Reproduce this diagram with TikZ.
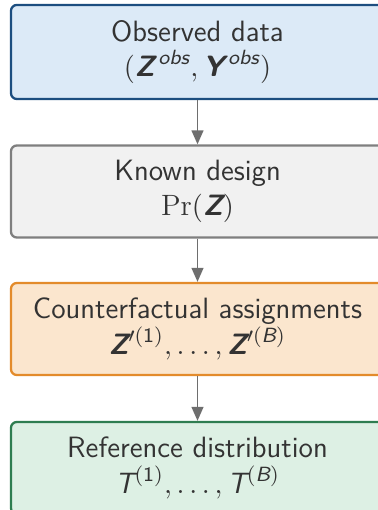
\documentclass[tikz,border=0pt]{standalone}
\usepackage{amsmath}
\usepackage{fontspec}
\usetikzlibrary{arrows.meta}
\definecolor{txt}{HTML}{333333}
\definecolor{bluedraw}{HTML}{1C4E80}
\definecolor{bluefill}{HTML}{DCEAF7}
\definecolor{graydraw}{HTML}{7F7F7F}
\definecolor{grayfill}{HTML}{F1F1F1}
\definecolor{orangedraw}{HTML}{E38B2B}
\definecolor{orangefill}{HTML}{FBE6CE}
\definecolor{greendraw}{HTML}{2E7D50}
\definecolor{greenfill}{HTML}{DDF0E4}
\definecolor{arrowgray}{HTML}{6E6E6E}
\newcommand\bZ{\text{\sffamily\bfseries\itshape Z}}
\newcommand\bY{\text{\sffamily\bfseries\itshape Y}}
\newcommand\sT{\text{\sffamily\itshape T}}
\newcommand\si[1]{\text{\sffamily\itshape #1}}
\newcommand\so[1]{\text{\sffamily #1}}
\tikzset{
  stagebox/.style={rounded corners=2.3pt, line width=0.885pt, minimum width=143.5pt,
    minimum height=35.4pt, align=center, text=txt, inner sep=0pt,
    font=\sffamily\fontsize{11.3}{13.7}\selectfont},
  flow/.style={draw=arrowgray, line width=0.58pt, -{Triangle[width=4.6pt,length=5.4pt]}}
}
\begin{document}
\begin{tikzpicture}[x=0.3846pt,y=0.3846pt]
\useasboundingbox (0,0) rectangle (378,510);
\node[stagebox, draw=bluedraw, fill=bluefill, minimum height=36.2pt] (obs) at (197.5,458)
  {Observed data\\ $(\bZ^{\,\si{obs}},\bY^{\,\si{obs}})$};
\node[stagebox, draw=graydraw, fill=grayfill] (design) at (197.5,318.5)
  {Known design\\ $\Pr(\bZ)$};
\node[stagebox, draw=orangedraw, fill=orangefill] (counter) at (197.5,181)
  {Counterfactual assignments\\ $\bZ'^{(\so{1})},\ldots,\bZ'^{(\si{B})}$};
\node[stagebox, draw=greendraw, fill=greenfill] (ref) at (197.5,42)
  {Reference distribution\\ $\sT^{(\so{1})},\ldots,\sT^{(\si{B})}$};
\draw[flow] (obs.south) -- (design.north);
\draw[flow] (design.south) -- (counter.north);
\draw[flow] (counter.south) -- (ref.north);
\end{tikzpicture}
\end{document}
